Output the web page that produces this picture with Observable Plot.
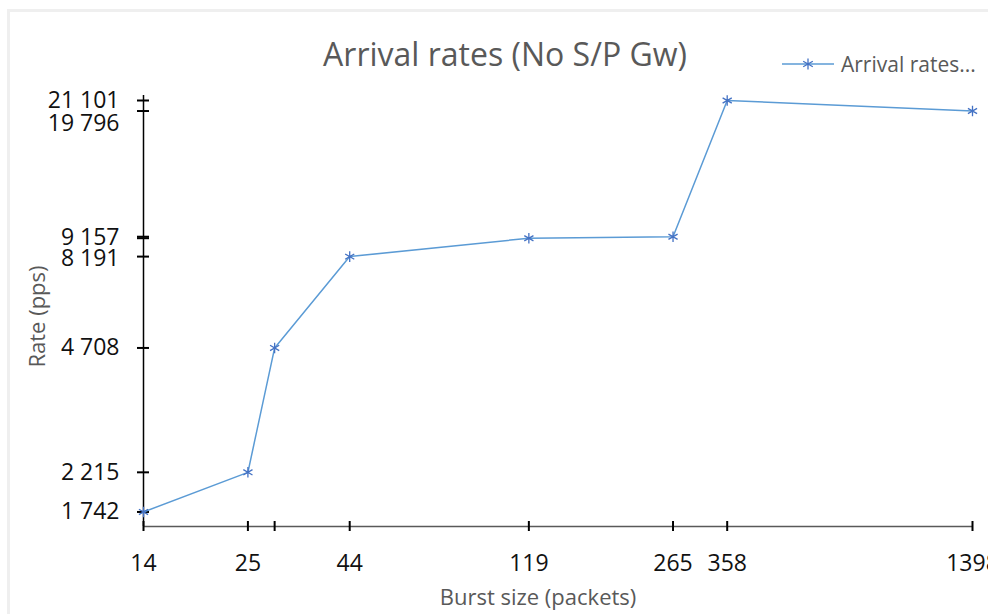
<!DOCTYPE html>
<html>
<head>
<meta charset="utf-8">
<script src="https://cdn.jsdelivr.net/npm/d3@7"></script>
<script src="https://cdn.jsdelivr.net/npm/@observablehq/plot@0.6"></script>
<style>
  html, body { margin: 0; padding: 0; background: #fff; }
  #wrap { position: relative; width: 988px; height: 614px; overflow: hidden; font-family: "Open Sans", sans-serif; }
  #frame { position: absolute; left: 7px; top: 9px; right: -10px; bottom: -10px; border-left: 3px solid #efefef; border-top: 3px solid #efefef; }
  #legend { position: absolute; left: 782px; top: 50px; display: flex; align-items: center; font-size: 21px; color: #595959; white-space: nowrap; }
  #legend svg { margin-right: 5px; }
  #chart { position: absolute; left: 0; top: 0; }
</style>
</head>
<body>
<div id="wrap">
  <div id="frame"></div>
  <div id="chart"></div>
  <div id="legend">
    <svg width="54" height="20"><line x1="0" y1="10" x2="52" y2="10" stroke="#5B9BD5" stroke-width="1.5"/><path d="M26,4.5V15.5M21.2,7.2L30.8,12.8M21.2,12.8L30.8,7.2" stroke="#4472C4" stroke-width="1.3" fill="none"/></svg>
    <span>Arrival rates...</span>
  </div>
</div>
<script>
// Data
const burstSizes = [14, 25, 29, 44, 119, 265, 358, 1398];
const arrivalRates = [1742, 2215, 4708, 8191, 9157, 9240, 21101, 19796];

// Axis ticks / labels
const xTicks = [14, 25, 29, 44, 119, 265, 358, 1398];
const xLabelTicks = [14, 25, 44, 119, 265, 358, 1398];
const yTicks = [1742, 2215, 4708, 8191, 9157, 9240, 19796, 21101];
const yLabelTicks = [1742, 2215, 4708, 21101];
const yLabelUp = [9157];
const yLabelDown = [8191];
const yShiftedLabelTicks = [19796];
const xDomain = [14, 1398];
const yDomain = [1595, 21101];

const titleText = "Arrival rates (No S/P Gw)";
const xTitle = "Burst size (packets)";
const yTitle = "Rate (pps)";

const data = burstSizes.map((b, i) => ({burst: b, rate: arrivalRates[i]}));
const fmt = d3.formatLocale({thousands: "\u00a0", grouping: [3], decimal: ".", currency: ["", ""]}).format(",d");
const lab = {tickSize: 0, tickPadding: 24, tickFormat: fmt, fontSize: 23, fill: "#111", label: null};

const chart = Plot.plot({
  width: 988,
  height: 614,
  marginLeft: 143,
  marginRight: 16,
  marginTop: 100,
  marginBottom: 88,
  x: {type: "log", domain: xDomain},
  y: {type: "log", domain: yDomain},
  style: {fontFamily: "Open Sans", background: "transparent", overflow: "visible"},
  marks: [
    Plot.ruleY([yDomain[0]], {stroke: "#595959", strokeWidth: 1.5}),
    Plot.ruleX([xDomain[0]], {stroke: "#000", strokeWidth: 1.5, insetTop: -5}),
    Plot.axisY(yTicks, {tickSize: 12, dx: 6, text: null, stroke: "#000", strokeWidth: 2, label: null}),
    Plot.axisY(yLabelTicks, lab),
    Plot.axisY(yLabelUp, {...lab, dy: -1}),
    Plot.axisY(yLabelDown, {...lab, dy: 2}),
    Plot.axisY(yShiftedLabelTicks, {...lab, dy: 13}),
    Plot.axisX(xTicks, {tickSize: 10, dy: -5, text: null, stroke: "#000", strokeWidth: 2, label: null}),
    Plot.axisX(xLabelTicks, {tickSize: 0, tickPadding: 28, tickFormat: d => String(d), fontSize: 23, fill: "#111", label: null}),
    Plot.line(data, {x: "burst", y: "rate", stroke: "#5B9BD5", strokeWidth: 1.5}),
    Plot.dot(data, {x: "burst", y: "rate", symbol: "asterisk", stroke: "#4472C4", strokeWidth: 1.3, r: 5}),
    Plot.text([titleText], {frameAnchor: "top", dx: -53, dy: -45, textAnchor: "middle", lineAnchor: "middle", fontSize: 32, fill: "#595959"}),
    Plot.text([xTitle], {frameAnchor: "bottom", dx: -20, dy: 71, textAnchor: "middle", lineAnchor: "middle", fontSize: 22, fill: "#595959"}),
    Plot.text([yTitle], {frameAnchor: "left", dx: -106, dy: 3, textAnchor: "middle", lineAnchor: "middle", rotate: -90, fontSize: 22, fill: "#595959"})
  ]
});
document.getElementById("chart").appendChild(chart);
</script>
</body>
</html>
